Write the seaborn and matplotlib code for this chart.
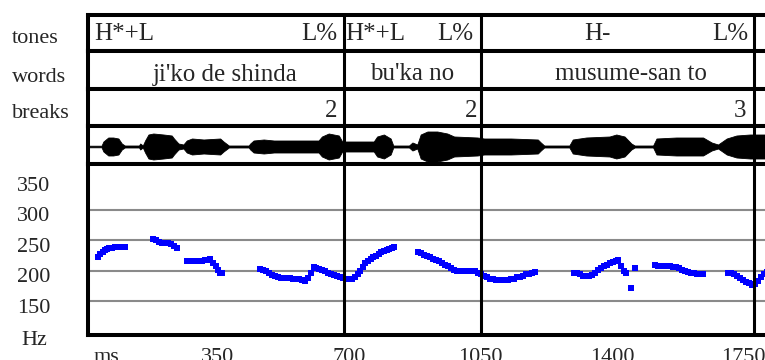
import matplotlib
matplotlib.use('Agg')
import matplotlib.pyplot as plt
import matplotlib.transforms as mtransforms
import pandas as pd
import seaborn as sns

# ---- tier labels (times in ms) ----
tier_names = ['tones', 'words', 'breaks']
tone_labels = ['H*+L', 'L%', 'H*+L', 'L%', 'H-', 'L%']
tone_times = [21, 668, 689, 1031, 1360, 1763]
word_labels = ["ji'ko de shinda", "bu'ka no", 'musume-san to']
word_times = [369, 867, 1451]
break_labels = ['2', '2', '3']
break_times = [668, 1042, 1758]
boundary_times = [685, 1051, 1778]

# ---- F0 track (ms, Hz) ----
pitch_ms = [31, 37, 43, 49, 55, 61, 68, 75, 82, 89, 96, 102,
            178, 186, 194, 202, 210, 218, 226, 233, 240,
            267, 275, 283, 291, 299, 307, 315, 323, 330, 337, 344, 350, 356, 362,
            463, 471, 479, 487, 495, 503, 511, 519, 527, 535, 543, 551, 559, 567, 575, 583,
            590, 597, 605, 612, 620, 628, 636, 644, 652, 660, 668, 676, 684, 692, 700, 708,
            715, 722, 729, 736, 743, 750, 757, 764, 771, 778, 785, 792, 799, 806, 813, 819,
            883, 891, 899, 907, 915, 923, 931, 939, 947, 955, 963, 971, 979, 987, 995, 1003,
            1011, 1019, 1027, 1035, 1043, 1051, 1059, 1067, 1075, 1083, 1091, 1099, 1107,
            1115, 1123, 1131, 1139, 1147, 1155, 1163, 1171, 1179, 1187, 1195,
            1297, 1305, 1313, 1321, 1329, 1337, 1345, 1353, 1361, 1369, 1377, 1385, 1393,
            1401, 1409, 1416, 1424, 1431, 1437, 1449, 1462,
            1513, 1521, 1529, 1537, 1545, 1553, 1561, 1569, 1577, 1585, 1593, 1601, 1609,
            1617, 1625, 1633, 1641,
            1709, 1717, 1725, 1733, 1741, 1749, 1757, 1765, 1773, 1781, 1789, 1797, 1805, 1813]
pitch_hz = [223, 227, 231, 234, 236, 237, 238, 239, 239, 239, 239, 239,
            252, 250, 248, 246, 245, 245, 244, 241, 237,
            216, 216, 216, 216, 216, 216, 217, 218, 220, 213, 207, 201, 197, 196,
            203, 201, 199, 196, 193, 191, 189, 188, 188, 188, 188, 187, 187, 186, 184, 183,
            188, 196, 206, 204, 202, 201, 199, 197, 195, 193, 191, 189, 188, 187, 186, 187,
            190, 195, 200, 206, 212, 216, 219, 222, 225, 228, 230, 232, 234, 236, 238, 239,
            231, 229, 226, 224, 222, 220, 218, 216, 213, 210, 207, 204, 201, 200, 200, 200,
            200, 200, 200, 199, 197, 194, 191, 189, 187, 186, 185, 185, 185,
            185, 185, 186, 187, 189, 190, 192, 194, 195, 197, 198,
            197, 196, 194, 192, 191, 191, 193, 196, 201, 205, 208, 210, 212,
            214, 216, 218, 208, 200, 196, 172, 205,
            209, 208, 208, 207, 207, 207, 206, 206, 204, 201, 199, 198, 197,
            196, 195, 194, 195,
            197, 196, 194, 191, 188, 185, 182, 179, 177, 178, 183, 189, 195, 198]

# ---- waveform envelope (ms, amplitude) ----
wave_ms = [0, 40, 45, 58, 71, 85, 94, 102, 140, 143, 150, 156, 165, 178, 205, 227, 233,
           245, 258, 267, 281, 312, 356, 365, 379, 432, 436, 445, 472, 499, 534, 579,
           600, 618, 627, 645, 672, 681, 690, 765, 774, 792, 810, 817, 859, 868, 881,
           890, 908, 934, 961, 979, 1041, 1059, 1130, 1202, 1210, 1219, 1286, 1295,
           1331, 1393, 1411, 1433, 1451, 1460, 1509, 1518, 1571, 1642, 1665, 1682,
           1705, 1731, 1767, 1812]
wave_amp = [0.8, 0.8, 5, 9, 9, 8, 3, 1, 1, 3, 1, 6, 12, 13, 12, 11, 8,
            3, 2, 6, 8, 7, 8, 5, 1, 1, 3, 6, 7, 6, 6, 6,
            6, 6, 10, 13, 11, 5, 5, 5, 10, 12, 8, 1, 1, 4, 2,
            12, 15, 15, 13, 10, 9, 8, 8, 7, 4, 1, 1, 7,
            9, 10, 12, 10, 3, 1, 1, 8, 9, 9, 4, 2,
            8, 11, 12, 12]

hz_grid = [150, 200, 250, 300]
hz_labels = [150, 200, 250, 300, 350]
ms_ticks = [350, 700, 1050, 1400, 1750]

sns.set_style('white')
plt.rcParams['font.family'] = ['Liberation Serif', 'DejaVu Serif']

W, H = 765, 360
fig = plt.figure(figsize=(W / 100, H / 100), dpi=100)
X0 = 88
XLIM = (4, 1807)
FRAME = 2.9


def add_row(top, bottom):
    ax = fig.add_axes([X0 / W, 1 - bottom / H, (W - X0) / W, (bottom - top) / H])
    ax.set_xlim(*XLIM)
    ax.set_xticks([])
    ax.set_yticks([])
    for side in ['left', 'top', 'bottom']:
        ax.spines[side].set_linewidth(FRAME)
        ax.spines[side].set_color('black')
    ax.spines['right'].set_visible(False)
    for t in boundary_times:
        ax.axvline(t, color='black', lw=2.2, zorder=5)
    return ax


rows = [(15, 51), (51, 89), (89, 126)]
baselines = [40.5, 80.5, 117]
name_base = [43.3, 81.7, 118.3]
tier_axes = [add_row(t, b) for t, b in rows]
for ax in tier_axes:
    ax.set_ylim(0, 1)

def frac(row, y):
    return (row[1] - y) / (row[1] - row[0])

tones_ax, words_ax, breaks_ax = tier_axes
tone_ha = ['left', 'right', 'left', 'right', 'center', 'right']
for lab, t, ha in zip(tone_labels, tone_times, tone_ha):
    tones_ax.text(t, frac(rows[0], baselines[0]), lab, ha=ha, va='baseline', fontsize=18)
for lab, t in zip(word_labels, word_times):
    words_ax.text(t, frac(rows[1], baselines[1]), lab, ha='center', va='baseline', fontsize=18)
for lab, t in zip(break_labels, break_times):
    breaks_ax.text(t, frac(rows[2], baselines[2]), lab, ha='right', va='baseline', fontsize=18)

for name, b in zip(tier_names, name_base):
    fig.text(12 / W, 1 - b / H, name, ha='left', va='baseline', fontsize=16)

# waveform row
wave_ax = add_row(126, 164)
wave_ax.set_ylim(-17.5, 20.5)
wave = pd.DataFrame({'ms': wave_ms, 'amp': wave_amp})
wave_ax.fill_between(wave['ms'], -wave['amp'], wave['amp'], color='black', lw=0.6,
                     edgecolor='black')

# pitch panel
ax = add_row(164, 334.5)
ax.set_ylim(95.1, 375.5)
for v in hz_grid:
    ax.axhline(v, color='#8a8a8a', lw=1.5, zorder=1)
pitch = pd.DataFrame({'ms': pitch_ms, 'hz': pitch_hz})
sns.scatterplot(data=pitch, x='ms', y='hz', marker='s', s=18, color='#0000ff',
                linewidth=0, ax=ax, zorder=3)
ax.set_xlabel('')
ax.set_ylabel('')
ax.set_yticks([])
ax.set_xticks(ms_ticks)
ax.set_xticklabels([str(t) for t in ms_ticks], fontsize=16)
ax.tick_params(axis='x', which='major', direction='in', length=13.7, width=1.2,
               color='#8a8a8a', pad=10)
ax.set_xticks([17.6], minor=True)
ax.set_xticklabels(['ms'], minor=True, fontsize=16, ha='left')
ax.tick_params(axis='x', which='minor', direction='in', length=0, pad=10)

ytrans = mtransforms.blended_transform_factory(ax.transAxes, ax.transData)
lab_x = (34 - X0) / (W - X0)
for v in hz_labels:
    ax.text(lab_x, v - 19, str(v), transform=ytrans, ha='center', va='baseline', fontsize=16)
ax.text(lab_x, 78, 'Hz', transform=ytrans, ha='center', va='baseline', fontsize=16)

fig.savefig('out.png', dpi=100)
